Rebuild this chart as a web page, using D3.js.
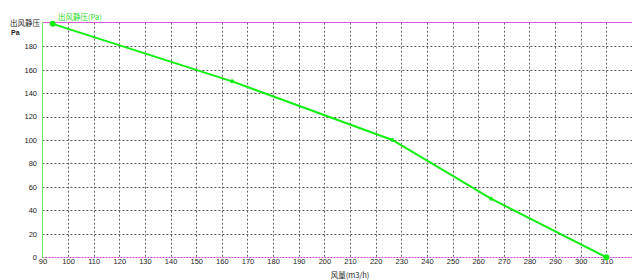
<!DOCTYPE html>
<html>
<head>
<meta charset="utf-8">
<script src="https://cdn.jsdelivr.net/npm/d3@7"></script>
<style>
    body { margin: 0; background: #fff; }
    svg { display: block; }
    .tick text { font-family: "Liberation Sans Narrow", "Liberation Sans", sans-serif; font-size: 7.5px; fill: #222; }
</style>
</head>
<body>
<div id="chart"></div>
<script>
// 风量 (m3/h) / 出风静压 (Pa)
var flow = [94, 164, 226.5, 265, 310];
var pressure = [199, 150, 100, 50, 0];
var xTicks = [90, 100, 110, 120, 130, 140, 150, 160, 170, 180, 190, 200, 210, 220, 230, 240, 250, 260, 270, 280, 290, 300, 310];
var yTicks = [0, 20, 40, 60, 80, 100, 120, 140, 160, 180];

var W = 640, H = 280;
var cjk = '"Noto Sans CJK SC", sans-serif';

var svg = d3.select('#chart').append('svg')
    .attr('width', W)
    .attr('height', H);

var x = d3.scaleLinear().domain([90, 320]).range([42.4, 632]);
var y = d3.scaleLinear().domain([0, 200]).range([257.3, 22.7]);

// grid
svg.append('g')
    .selectAll('line')
    .data(yTicks.filter(function(d) { return d > 0; }))
    .enter().append('line')
    .attr('x1', x(90)).attr('x2', x(320))
    .attr('y1', function(d) { return Math.round(y(d)) + 0.5; })
    .attr('y2', function(d) { return Math.round(y(d)) + 0.5; })
    .attr('stroke', '#555')
    .attr('stroke-dasharray', '2,2');

svg.append('g')
    .selectAll('line')
    .data(xTicks.filter(function(d) { return d > 90; }))
    .enter().append('line')
    .attr('x1', function(d) { return Math.round(x(d)) + 0.5; })
    .attr('x2', function(d) { return Math.round(x(d)) + 0.5; })
    .attr('y1', y(200)).attr('y2', y(0))
    .attr('stroke', '#666')
    .attr('stroke-dasharray', '2,2');

// frame lines
svg.append('line')
    .attr('x1', x(90)).attr('x2', x(320))
    .attr('y1', 22.5).attr('y2', 22.5)
    .attr('stroke', '#dd55dd');
svg.append('line')
    .attr('x1', x(90)).attr('x2', x(320))
    .attr('y1', 257.5).attr('y2', 257.5)
    .attr('stroke', '#cc44cc')
    .attr('stroke-dasharray', '2,1');
svg.append('line')
    .attr('x1', 42.5).attr('x2', 42.5)
    .attr('y1', 22).attr('y2', 258)
    .attr('stroke', '#66ee66');

// axes (labels only)
var xAxis = svg.append('g')
    .attr('transform', 'translate(0,' + 258 + ')')
    .call(d3.axisBottom(x).tickValues(xTicks).tickSize(0).tickPadding(1));
xAxis.select('.domain').remove();

var yAxis = svg.append('g')
    .attr('transform', 'translate(' + 37 + ',0)')
    .call(d3.axisLeft(y).tickValues(yTicks).tickSize(0).tickPadding(0));
yAxis.select('.domain').remove();

// titles
svg.append('text')
    .attr('x', 10).attr('y', 26)
    .style('font-family', cjk).style('font-size', '7.5px').attr('fill', '#222')
    .text('出风静压');
svg.append('text')
    .attr('x', 11).attr('y', 35)
    .style('font-family', '"Liberation Sans", sans-serif').style('font-size', '7px').style('font-weight', 'bold').attr('fill', '#222')
    .text('Pa');
svg.append('text')
    .attr('x', 350).attr('y', 278)
    .attr('text-anchor', 'middle')
    .style('font-family', cjk).style('font-size', '7.5px').attr('fill', '#222')
    .text('风量(m3/h)');
svg.append('text')
    .attr('x', 58).attr('y', 20)
    .style('font-family', cjk).style('font-size', '7.5px').attr('fill', '#22dd22')
    .text('出风静压(Pa)');

// curve
var pts = flow.map(function(d, i) { return [d, pressure[i]]; });
var line = d3.line()
    .x(function(d) { return x(d[0]); })
    .y(function(d) { return y(d[1]); });

svg.append('path')
    .datum(pts)
    .attr('d', line)
    .attr('fill', 'none')
    .attr('stroke', '#11ee11')
    .attr('stroke-width', 2);

svg.append('g')
    .selectAll('circle')
    .data(pts)
    .enter().append('circle')
    .attr('cx', function(d) { return x(d[0]); })
    .attr('cy', function(d) { return y(d[1]); })
    .attr('r', function(d, i) { return (i === 0 || i === pts.length - 1) ? 3 : 2; })
    .attr('fill', '#11ee11');
</script>
</body>
</html>
